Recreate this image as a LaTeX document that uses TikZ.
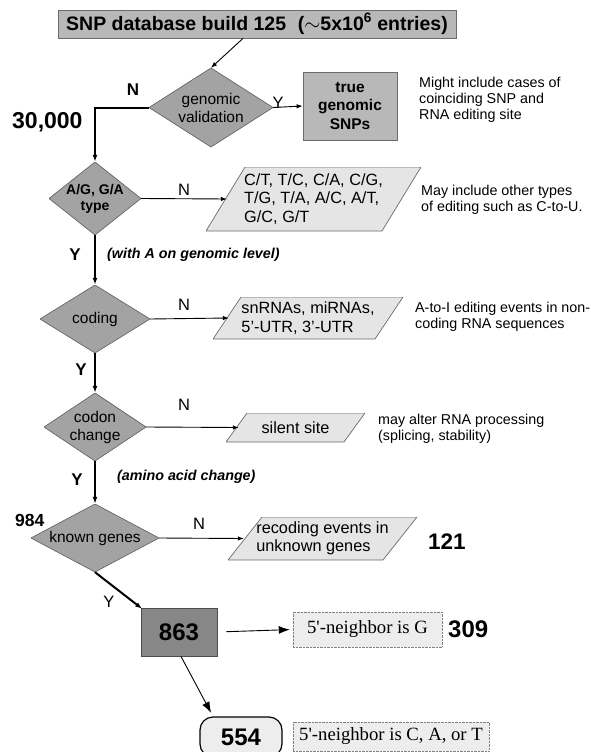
\documentclass[tikz,border=0pt]{standalone}
\usepackage{fontspec}
\setmainfont{Liberation Sans}
\newfontfamily\timesfont{Liberation Serif}
\usetikzlibrary{arrows.meta}

\definecolor{diagray}{gray}{0.64}
\definecolor{diaedge}{gray}{0.40}
\definecolor{boxgray}{gray}{0.72}
\definecolor{iogray}{gray}{0.90}
\definecolor{ioedge}{gray}{0.42}
\definecolor{darkbox}{gray}{0.53}
\definecolor{notegray}{gray}{0.93}

\begin{document}
\begin{tikzpicture}[x=1pt, y=-1pt,
  decision/.style={inner sep=0pt, align=center, font=\fontsize{15.5}{18}\selectfont,
    path picture={\filldraw[fill=diagray, draw=diaedge, line width=0.7pt]
      (path picture bounding box.north) -- (path picture bounding box.east) --
      (path picture bounding box.south) -- (path picture bounding box.west) -- cycle;}},
  io/.style={inner sep=0pt, align=left, font=\fontsize{16.3}{18.5}\selectfont,
    path picture={\filldraw[fill=iogray, draw=ioedge, line width=0.7pt]
      ([xshift=#1]path picture bounding box.north west) -- (path picture bounding box.north east) --
      ([xshift=-#1]path picture bounding box.south east) -- (path picture bounding box.south west) -- cycle;}},
  graybox/.style={draw=ioedge, fill=boxgray, line width=0.8pt, inner sep=0pt, align=center},
  headbox/.style={graybox, font=\bfseries\fontsize{19.5}{21}\selectfont},
  notebox/.style={draw=gray, densely dotted, fill=notegray, inner sep=0pt, font=\timesfont\fontsize{18.7}{20}\selectfont},
  annot/.style={anchor=west, align=left, inner sep=0pt, font=\fontsize{14.3}{15.7}\selectfont},
  remark/.style={anchor=west, inner sep=0pt, font=\bfseries\itshape\fontsize{14.3}{16}\selectfont},
  lab/.style={inner sep=0pt, font=\fontsize{16.5}{18}\selectfont},
  boldlab/.style={inner sep=0pt, font=\bfseries\fontsize{17}{18}\selectfont},
  tally/.style={anchor=west, inner sep=0pt, font=\bfseries\fontsize{#1}{#1}\selectfont},
  flow/.style={-{Latex[length=6pt,width=4.5pt]}, line width=0.9pt},
  spine/.style={-{Latex[length=7pt,width=5pt]}, line width=2pt},
  bigflow/.style={-{Latex[length=11pt,width=8pt]}, line width=0.9pt}]

  \useasboundingbox (0,0) rectangle (590,752);

  % Source
  \node[headbox, minimum width=398pt, minimum height=28pt] (db) at (257,24) {SNP database build 125\hspace{0.6em}($\sim$5x10\textsuperscript{6} entries)};

  % Decisions
  \node[decision, minimum width=124pt, minimum height=79pt] (gv) at (211,107.5) {genomic\\validation};
  \node[decision, minimum width=92pt, minimum height=73pt, font=\bfseries\fontsize{14}{16}\selectfont] (ag) at (95,198.5) {A/G, G/A\\type};
  \node[decision, minimum width=110pt, minimum height=68pt] (coding) at (95,319) {coding};
  \node[decision, minimum width=102pt, minimum height=68pt] (codon) at (95,427) {codon\\change};
  \node[decision, minimum width=128pt, minimum height=68pt] (known) at (95,538) {known genes};

  % Outcomes
  \node[graybox, minimum width=94pt, minimum height=68pt, font=\bfseries\fontsize{15.5}{18.5}\selectfont] (tg) at (350,106) {true\\genomic\\SNPs};
  \node[io=39pt, minimum width=215pt, minimum height=64pt] (ct) at (313.5,199) {C/T, T/C, C/A, C/G,\\T/G, T/A, A/C, A/T,\\G/C, G/T};
  \node[io=28pt, minimum width=190pt, minimum height=42pt] (sn) at (308,318) {snRNAs, miRNAs,\\5'-UTR, 3'-UTR};
  \node[io=21pt, minimum width=139pt, minimum height=29pt, align=center] (silent) at (295.5,427.5) {silent site};
  \node[io=34pt, minimum width=189pt, minimum height=43pt] (rec) at (322.5,538.5) {recoding events in\\unknown genes};

  % Final split
  \node[draw=black!70, fill=darkbox, line width=0.8pt, minimum width=76pt, minimum height=48pt, font=\bfseries\fontsize{24}{24}\selectfont] (n863) at (179,632) {863};
  \node[notebox, minimum width=149pt, minimum height=35pt] (gbox) at (367.5,629.5) {5'-neighbor is G};
  \node[draw, fill=notegray, rounded corners=13pt, line width=1.2pt, minimum width=82pt, minimum height=40pt, font=\bfseries\fontsize{24}{24}\selectfont] (n554) at (241,737) {554};
  \node[notebox, minimum width=196pt, minimum height=29pt] (cbox) at (391,736.5) {5'-neighbor is C, A, or T};

  % Side notes
  \node[annot] (a1) at (419,100) {Might include cases of\\coinciding SNP and\\RNA editing site};
  \node[annot] (a2) at (421,199.5) {May include other types\\of editing such as C-to-U.};
  \node[annot] (a3) at (415,317) {A-to-I editing events in non-\\coding RNA sequences};
  \node[annot] (a4) at (378,428.5) {may alter RNA processing\\(splicing, stability)};
  \node[remark] (r1) at (107,255) {(with A on genomic level)};
  \node[remark] (r2) at (117,477) {(amino acid change)};

  % Counts
  \node[tally=23] (c30000) at (12,122) {30,000};
  \node[tally=17.5] (c984) at (15,520) {984};
  \node[tally=22.5] (c121) at (428,542) {121};
  \node[tally=24] (c309) at (448,629) {309};

  % Branch labels
  \node[boldlab] (N1) at (133,90) {N};
  \node[lab] (Y1) at (278,103) {Y};
  \node[lab] (N2) at (184,190) {N};
  \node[boldlab] (Y2) at (75,255) {Y};
  \node[lab] (N3) at (184,305) {N};
  \node[boldlab] (Y3) at (81,370) {Y};
  \node[lab] (N4) at (184,405) {N};
  \node[boldlab] (Y4) at (77,480) {Y};
  \node[lab] (N5) at (199,524) {N};
  \node[lab] (Y5) at (109,602) {Y};

  % Main line
  \draw[flow] ([xshift=-14pt]db.south) -- (gv.north);
  \draw[spine] (gv.west) -| (ag.north);
  \draw[spine] (ag.south) -- (coding.north);
  \draw[spine] (coding.south) -- (codon.north);
  \draw[spine] (codon.south) -- (known.north);
  \draw[spine, shorten >=-2pt] (known.south) -- (n863.north west);

  % Side branches
  \draw[flow] (gv.east) -- (tg.west);
  \draw[flow] (ag.east) -- ([xshift=21pt]ct.west);
  \draw[flow] (coding.east) -- ([xshift=16pt]sn.west);
  \draw[flow] (codon.east) -- ([xshift=13pt]silent.west);
  \draw[flow] (known.east) -- ([xshift=16pt]rec.west);

  % Neighbor split
  \draw[bigflow, shorten <=9pt, shorten >=3pt] (n863.east) -- (gbox.west);
  \draw[bigflow, shorten >=4pt] ([xshift=2pt]n863.south) -- ([xshift=-28pt]n554.north);

\end{tikzpicture}
\end{document}
